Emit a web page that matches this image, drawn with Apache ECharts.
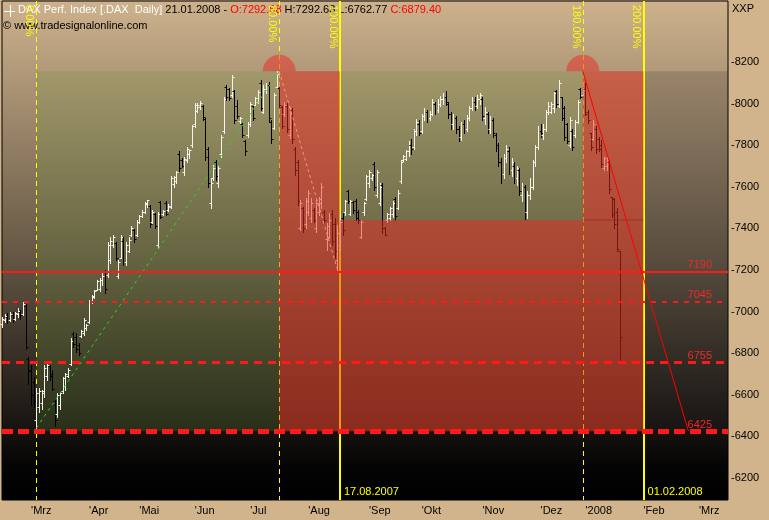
<!DOCTYPE html>
<html><head><meta charset="utf-8">
<script src="https://cdn.jsdelivr.net/npm/echarts@6/dist/echarts.min.js"></script>
<style>html,body{margin:0;padding:0;background:#d2b48c;}#c{width:769px;height:520px;}</style>
</head><body><div id="c"></div>
<script>
// ---------- calendar (Xetra trading days) ----------
const firstDay = '2007-02-14';
const dayCount = 276;
const holidays = ['2007-04-06','2007-04-09','2007-05-01','2007-05-28','2007-12-24','2007-12-25','2007-12-26','2007-12-31','2008-01-01'];
const categories = [];
(function(){
  const d = new Date(firstDay + 'T00:00:00Z');
  while (categories.length < dayCount) {
    const wd = d.getUTCDay(), s = d.toISOString().slice(0,10);
    if (wd !== 0 && wd !== 6 && holidays.indexOf(s) < 0) categories.push(s);
    d.setUTCDate(d.getUTCDate() + 1);
  }
})();
const monthNames = ['Jan','Feb','Mrz','Apr','Mai','Jun','Jul','Aug','Sep','Okt','Nov','Dez'];
const yTicks = [6200,6400,6600,6800,7000,7200,7400,7600,7800,8000,8200];

// ---------- OHLC (daily, from 14.02.2007) ----------
const opens = [6940,6960,6975,6960,6985,6965,6990,7000,6990,7025,6770,6720,6660,6480,6540,6560,6610,6690,6740,6700,6570,6510,6550,6620,6640,6690,6750,6890,6880,6840,6885,6895,6920,6950,7045,7070,7105,7110,7150,7190,7175,7250,7320,7330,7170,7260,7340,7240,7290,7370,7390,7370,7430,7460,7480,7515,7510,7430,7470,7320,7525,7470,7520,7490,7505,7615,7630,7760,7730,7670,7730,7760,7800,7900,7965,7985,7990,7925,7780,7520,7640,7720,7620,7760,7870,8080,8070,8040,8060,7990,7915,7900,7820,7850,7900,7990,7995,8010,8100,7960,8060,8090,7910,7883,8080,8075,7985,7950,7990,7850,7970,7780,7720,7400,7500,7420,7480,7450,7490,7400,7480,7520,7480,7350,7360,7470,7420,7250,7320,7450,7480,7580,7470,7525,7530,7480,7360,7480,7540,7620,7640,7710,7560,7520,7610,7400,7440,7450,7470,7540,7500,7630,7730,7735,7770,7800,7790,7870,7900,7870,7940,7960,7930,7950,8000,7970,8000,8020,8030,8000,7950,7900,7930,7880,7840,7900,7880,7930,7980,8010,7990,8020,8020,7930,7950,7880,7920,7850,7800,7720,7660,7740,7770,7680,7700,7640,7680,7560,7600,7480,7560,7600,7720,7790,7870,7850,7880,7960,7960,7980,8060,7990,8030,7980,7900,7800,7870,7850,7910,8070,8040,8070,7960,7860,7830,7880,7830,7800,7690,7700,7720,7550,7540,7480,7292.68];
const highs = [6975,6990,6995,7000,6998,7000,7015,7010,7045,7035,6780,6743,6685,6633,6633,6625,6743,6750,6743,6719,6575,6608,6615,6685,6705,6730,6873,6900,6895,6850,6912,6970,6940,7056,7080,7104,7152,7160,7185,7200,7335,7358,7370,7335,7248,7368,7358,7335,7358,7410,7395,7440,7464,7488,7525,7537,7512,7488,7476,7480,7530,7488,7530,7515,7650,7650,7675,7770,7740,7745,7790,7777,7897,8003,8003,8012,7995,7930,7790,7640,7705,7729,7700,7850,8030,8090,8077,8137,8065,8017,7935,7906,7825,7910,8010,7995,8032,8065,8113,8089,8100,8105,7921,8051,8156,8080,7990,8010,8003,7985,7980,7790,7729,7537,7505,7545,7585,7545,7498,7537,7550,7620,7488,7425,7474,7490,7450,7416,7464,7476,7537,7585,7537,7530,7540,7490,7440,7525,7657,7680,7660,7720,7680,7620,7620,7405,7474,7505,7530,7550,7585,7730,7755,7777,7820,7830,7880,7925,7920,7950,7980,7970,7965,8020,8010,8020,8035,8050,8060,8010,7960,7950,7940,7890,7910,7920,7945,7990,8030,8030,8040,8050,8030,7985,7960,7940,7930,7860,7810,7740,7760,7800,7790,7740,7720,7700,7690,7620,7610,7580,7640,7730,7800,7890,7900,7900,7970,8010,8010,8055,8065,8113,8030,7990,7907,7935,7880,7920,8017,8075,8075,8100,7969,7860,7921,7890,7840,7825,7745,7745,7729,7550,7545,7500,7292.68];
const lows = [6925,6950,6945,6955,6950,6960,6975,6965,6985,6820,6650,6551,6540,6440,6518,6530,6590,6670,6671,6623,6450,6493,6530,6608,6625,6685,6743,6830,6805,6790,6880,6887,6910,6945,7040,7065,7104,7100,7130,7090,7166,7234,7310,7248,7160,7257,7224,7224,7285,7365,7335,7365,7425,7455,7475,7505,7405,7425,7400,7305,7450,7464,7464,7485,7500,7600,7620,7675,7695,7657,7720,7740,7790,7887,7960,7975,7921,7729,7600,7500,7633,7633,7600,7745,7860,8017,8017,8030,7906,7930,7906,7840,7753,7840,7890,7921,7993,8003,7969,7955,8050,7910,7810,7880,8075,7985,7883,7940,7865,7835,7810,7657,7512,7392,7382,7400,7464,7430,7430,7382,7464,7500,7425,7296,7354,7320,7260,7200,7296,7368,7464,7520,7464,7476,7440,7425,7354,7464,7537,7600,7633,7585,7550,7512,7380,7368,7430,7440,7455,7440,7495,7620,7725,7729,7750,7760,7780,7850,7850,7860,7920,7910,7920,7945,7950,7960,7990,8000,7995,7930,7880,7880,7860,7820,7825,7860,7870,7920,7970,7970,7980,8000,7920,7900,7860,7860,7840,7770,7700,7620,7640,7720,7660,7650,7620,7610,7560,7530,7445,7450,7540,7590,7700,7780,7840,7830,7870,7950,7955,7960,7985,7985,7921,7825,7810,7790,7777,7840,7907,8025,8040,7945,7907,7777,7825,7762,7770,7695,7680,7680,7570,7455,7400,7290,6762.77];
const closes = [6965,6980,6960,6990,6965,6995,7005,6985,7035,6830,6715,6600,6570,6610,6620,6620,6730,6745,6690,6630,6480,6600,6610,6680,6700,6720,6860,6845,6820,6800,6905,6960,6935,7050,7075,7100,7145,7150,7170,7110,7320,7340,7360,7260,7240,7360,7240,7320,7345,7400,7350,7430,7460,7480,7520,7535,7420,7480,7410,7470,7455,7485,7470,7510,7640,7645,7670,7690,7700,7735,7780,7775,7890,7995,7995,8005,7935,7745,7620,7620,7690,7650,7690,7840,8020,8030,8025,8130,7920,7940,7930,7850,7770,7900,8000,7930,8025,8055,7980,8070,8090,7930,7830,8040,8140,7995,7890,7995,7880,7970,7830,7680,7530,7520,7400,7530,7570,7520,7440,7520,7540,7600,7440,7410,7440,7340,7290,7380,7430,7390,7530,7530,7530,7490,7450,7440,7430,7520,7650,7670,7655,7600,7670,7600,7400,7370,7470,7500,7520,7460,7570,7720,7750,7770,7800,7780,7870,7910,7860,7940,7960,7930,7950,8010,7970,8000,8020,8030,8010,7950,7900,7930,7880,7840,7900,7880,7930,7980,8010,7990,8020,8040,7940,7960,7880,7920,7860,7800,7720,7660,7740,7780,7680,7720,7640,7690,7580,7600,7480,7560,7600,7720,7790,7870,7860,7880,7960,7990,8000,8050,8000,8100,7930,7840,7820,7920,7790,7910,8010,8030,8065,7950,7920,7790,7900,7780,7780,7710,7740,7730,7590,7470,7420,7300,6879.40];

// ---------- drawing tool values ----------
const levels = [7190, 7045, 6755, 6425];
const timeLineDates = ['2007-03-05','2007-07-17','2007-08-17','2007-12-28','2008-02-01'];
const timeLinePct = ['0.00%','80.00%','100.00%','180.00%','200.00%'];
const zoneHigh = 8155, zoneLow = 6425, zoneMid = 7440;
const greenZones = [['2007-03-05','2008-02-01',zoneHigh,zoneLow]];
const outerZones = [['2008-02-01','2008-03-18',zoneHigh,zoneLow]];
const redZones = [['2007-07-17','2007-08-17',zoneHigh,zoneLow],['2007-08-17','2007-12-28',zoneMid,zoneLow],['2007-12-28','2008-02-01',zoneHigh,zoneLow]];
const domes = [['2007-07-17',zoneHigh],['2007-12-28',zoneHigh]];
const midEdge = [['2007-12-28',zoneMid,'2008-02-01',zoneMid]];
const riseLine = [['2007-03-05',6440,'2007-07-17',zoneHigh]];
const fallLine = [['2007-07-17',zoneHigh,'2007-08-16',7205]];
const projLine = [['2007-12-28',zoneHigh,'2008-02-26',6425]];

// ---------- styles ----------
const FONT = '11px "Liberation Sans", Arial, sans-serif';
const levelStyle = [{w:2,dash:null},{w:2,dash:[5,6]},{w:3,dash:[8,6]},{w:5,dash:[11,5]}];
const timeSolid = [false,false,true,false,true];
const idx = d => categories.indexOf(d);
const fmtDate = s => s.slice(8,10)+'.'+s.slice(5,7)+'.'+s.slice(0,4);
const snap = (v,w) => (w % 2 === 1) ? Math.round(v - 0.5) + 0.5 : Math.round(v);

const chart = echarts.init(document.getElementById('c'), null, {renderer:'canvas'});
const last = closes.length - 1;

function lineSeries(data, z, style) {
  return {type:'custom', z:z, silent:true, data:data.map(r=>[idx(r[0]),r[1],idx(r[2]),r[3]]),
    encode:{x:[0,2], y:[1,3]},
    renderItem:(p,api)=>{
      const a = api.coord([api.value(0),api.value(1)]), b = api.coord([api.value(2),api.value(3)]);
      return {type:'line', shape:{x1:a[0],y1:a[1],x2:b[0],y2:b[1]}, style:Object.assign({fill:null}, style)};
    }};
}
function zoneSeries(data, z, fill) {
  return {type:'custom',z:z,silent:true,data:data.map(r=>[idx(r[0]),idx(r[1]),r[2],r[3]]),encode:{x:[0,1],y:[2,3]},
    renderItem:(p,api)=>{const a=api.coord([api.value(0),api.value(2)]),b=api.coord([api.value(1),api.value(3)]);
      return {type:'rect',shape:{x:a[0],y:a[1],width:b[0]-a[0],height:b[1]-a[1]},style:{fill:fill}};}};
}

const option = {
  animation:false,
  backgroundColor:'#d2b48c',
  grid:{left:2,right:41,top:1,bottom:20,show:true,borderColor:'#000',borderWidth:1,
    backgroundColor:new echarts.graphic.LinearGradient(0,0,0,1,[{offset:0,color:'#ceb28d'},{offset:0.5,color:'#675946'},{offset:0.93,color:'#060505'},{offset:1,color:'#000'}])},
  xAxis:{type:'category',data:categories,boundaryGap:false,
    axisLine:{show:false},axisTick:{show:false},splitLine:{show:false},
    axisLabel:{interval:(i)=> i>0 && categories[i].slice(5,7)!==categories[i-1].slice(5,7),
      formatter:(v)=>{const m=+v.slice(5,7); return "'" + (m===1 ? v.slice(0,4) : monthNames[m-1]);},
      align:'left',margin:5,color:'#000',fontFamily:'"Liberation Sans", Arial',fontSize:11}},
  yAxis:{type:'value',position:'right',min:6094.23,max:8493.27,
    axisLine:{show:false},axisTick:{show:false},splitLine:{show:false},
    axisLabel:{customValues:yTicks,formatter:v=>'-'+v,margin:3,color:'#000',fontFamily:'"Liberation Sans", Arial',fontSize:11}},
  graphic:[
    {type:'line',shape:{x1:10.5,y1:5,x2:10.5,y2:17},style:{stroke:'#fff',lineWidth:1}},
    {type:'line',shape:{x1:4,y1:11.5,x2:15,y2:11.5},style:{stroke:'#fff',lineWidth:1}},
    {type:'text',x:18,y:10,style:{
      text:'{w|DAX Perf. Index [.DAX  Daily]} {k|'+fmtDate(categories[last])+' -} {r|O:'+opens[last].toFixed(2)+'} {k|H:'+highs[last].toFixed(2)+' L:'+lows[last].toFixed(2)+'} {r|C:'+closes[last].toFixed(2)+'}',
      rich:{w:{fill:'#ffffff',font:FONT},k:{fill:'#000000',font:FONT},r:{fill:'#ff0000',font:FONT}},
      font:FONT,verticalAlign:'middle'}},
    {type:'text',x:3,y:26,style:{text:'\u00a9 www.tradesignalonline.com',fill:'#000',font:FONT,verticalAlign:'middle'}},
    {type:'text',x:732,y:9,style:{text:'XXP',fill:'#000',font:FONT,verticalAlign:'middle'}}
  ],
  series:[
    zoneSeries(greenZones,1,'rgba(110,150,60,0.22)'),
    zoneSeries(outerZones,1,'rgba(30,30,40,0.16)'),
    // vertical time lines + labels
    {type:'custom',z:2,silent:true,data:timeLineDates.map(d=>[idx(d),7000]),encode:{x:0,y:1},
      renderItem:(p,api)=>{const cs=p.coordSys; const x0=api.coord([api.value(0),7000])[0]; const solid=timeSolid[p.dataIndex];
        const x = solid ? Math.round(x0) : Math.round(x0)+0.5;
        const ch=[{type:'line',shape:{x1:x,y1:cs.y,x2:x,y2:cs.y+cs.height},style:{stroke:'#ffff00',lineWidth:solid?2:1,lineDash:solid?null:[5,4]}},
          {type:'text',x:x0-7,y:5,rotation:-Math.PI/2,style:{text:timeLinePct[p.dataIndex],fill:'#ffff00',font:FONT,align:'left',verticalAlign:'middle'}}];
        if(solid) ch.push({type:'text',x:x0+4,y:492,style:{text:fmtDate(timeLineDates[p.dataIndex]),fill:'#ffff00',font:FONT,align:'left',verticalAlign:'middle'}});
        return {type:'group',children:ch};}},
    // OHLC bars
    {type:'custom',z:3,silent:true,data:closes.map((c,i)=>[i,opens[i],highs[i],lows[i],c]),encode:{x:0,y:[1,2,3,4]},
      renderItem:(p,api)=>{const i=api.value(0),o=api.value(1),h=api.value(2),l=api.value(3),c=api.value(4);
        const x=Math.round(api.coord([i,o])[0])+0.5;
        const yo=Math.round(api.coord([i,o])[1])+0.5, yh=Math.round(api.coord([i,h])[1]), yl=Math.round(api.coord([i,l])[1])+1, yc=Math.round(api.coord([i,c])[1])+0.5;
        const col = c>=o ? '#f4f4ec' : '#000000';
        return {type:'group',children:[
          {type:'line',shape:{x1:x,y1:yh,x2:x,y2:yl},style:{stroke:col,lineWidth:1}},
          {type:'line',shape:{x1:x-2,y1:yo,x2:x,y2:yo},style:{stroke:col,lineWidth:1}},
          {type:'line',shape:{x1:x,y1:yc,x2:x+2,y2:yc},style:{stroke:col,lineWidth:1}}]};}},
    lineSeries(riseLine,4,{stroke:'#22dd22',lineWidth:1,lineDash:[3,4]}),
    lineSeries(fallLine,4,{stroke:'#ffffff',lineWidth:1,lineDash:[3,3]}),
    // red zones (over bars)
    zoneSeries(redZones,5,'rgba(235,40,35,0.5)'),
    {type:'custom',z:5,silent:true,data:domes.map(r=>[idx(r[0]),r[1]]),encode:{x:0,y:1},
      renderItem:(p,api)=>{const a=api.coord([api.value(0),api.value(1)]);
        return {type:'sector',shape:{cx:a[0],cy:a[1],r:16.5,r0:0,startAngle:Math.PI,endAngle:2*Math.PI,clockwise:true},style:{fill:'rgba(235,40,35,0.5)'}};}},
    lineSeries(midEdge,5,{stroke:'rgba(140,20,15,0.45)',lineWidth:1}),
    // price levels
    {type:'custom',z:6,silent:true,data:levels.map(v=>[0,v]),encode:{x:0,y:1},
      renderItem:(p,api)=>{const cs=p.coordSys,v=api.value(1),st=levelStyle[p.dataIndex];
        const y=snap(api.coord([0,v])[1],st.w);
        return {type:'group',children:[
          {type:'line',shape:{x1:cs.x,y1:y,x2:cs.x+cs.width,y2:y},style:{stroke:'#ff1a1a',lineWidth:st.w,lineDash:st.dash}},
          {type:'text',x:cs.x+cs.width-16,y:y-7,style:{text:String(v),fill:'#ee2a2a',font:FONT,align:'right',verticalAlign:'middle'}}]};}},
    lineSeries(projLine,6,{stroke:'#ff0000',lineWidth:1})
  ]
};
chart.setOption(option);
</script>
</body></html>
